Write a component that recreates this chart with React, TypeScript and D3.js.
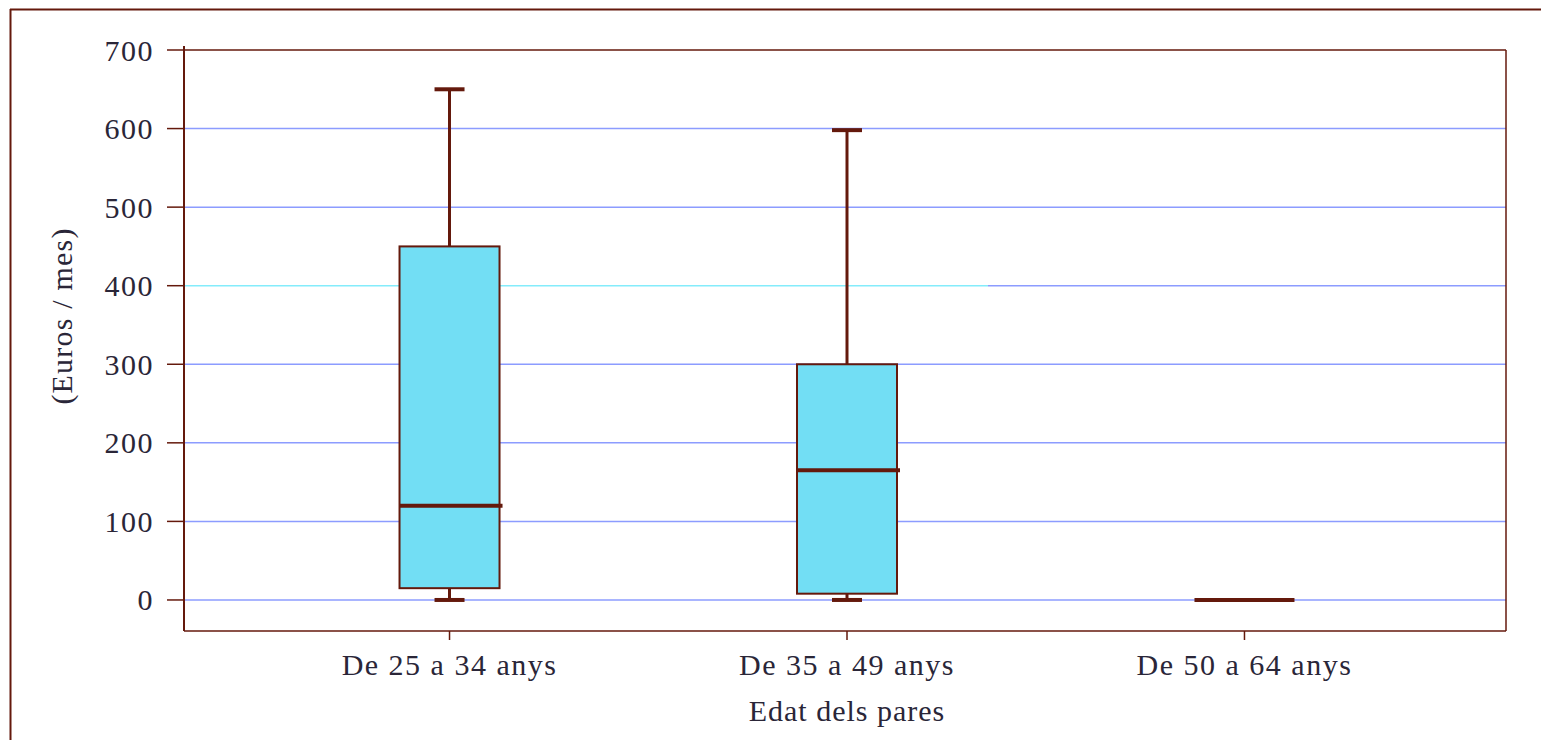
import React from "react";
import * as d3 from "d3";

const categories = ["De 25 a 34 anys", "De 35 a 49 anys", "De 50 a 64 anys"];
const whiskerLow = [0, 0, 0];
const q1 = [15, 8, 0];
const median = [120, 165, 0];
const q3 = [450, 300, 0];
const whiskerHigh = [650, 598, 0];
const yTicks = [0, 100, 200, 300, 400, 500, 600, 700];
const yTitle = "(Euros / mes)";
const xTitle = "Edat dels pares";

const W = 1541;
const H = 740;
const left = 184;
const right = 1506;
const top = 50;
const bottom = 631;

const BROWN = "#64190c";
const GRID = "#8c9cff";
const FILL = "#72def4";
const TEXT = "#2a2638";
const FONT = "Times New Roman, Liberation Serif, DejaVu Serif, serif";

export default function App() {
  const y = d3.scaleLinear().domain([-39.5, 700]).range([bottom, top]);
  const x = d3.scalePoint<string>().domain(categories).range([left + 2, right + 2]).padding(0.663);
  const boxW = 100;
  const capW = 30;

  return (
    <svg width={W} height={H} style={{ position: "absolute", left: 0, top: 0, background: "#fff" }}>
      {/* outer frame */}
      <line x1={10} x2={W} y1={9.5} y2={9.5} stroke={BROWN} strokeWidth={2} />
      <line x1={10.5} x2={10.5} y1={9} y2={H} stroke={BROWN} strokeWidth={2} />

      {/* grid lines */}
      {yTicks.filter((t) => t !== 700).map((t) =>
        t === 400 ? (
          <g key={t}>
            <line x1={left} x2={988} y1={y(t)} y2={y(t)} stroke="#84ecfb" strokeWidth={1.5} />
            <line x1={988} x2={right} y1={y(t)} y2={y(t)} stroke={GRID} strokeWidth={1.5} />
          </g>
        ) : (
          <line key={t} x1={left} x2={right} y1={y(t)} y2={y(t)} stroke={GRID} strokeWidth={1.5} />
        )
      )}

      {/* plot frame */}
      <line x1={left} x2={right} y1={top} y2={top} stroke={BROWN} strokeWidth={1.5} />
      <line x1={right} x2={right} y1={top} y2={bottom} stroke={BROWN} strokeWidth={1.5} />
      <line x1={left} x2={right} y1={bottom} y2={bottom} stroke={BROWN} strokeWidth={1.5} />
      <line x1={left} x2={left} y1={top - 4} y2={bottom} stroke={BROWN} strokeWidth={2} />

      {/* y ticks */}
      {yTicks.map((t) => (
        <g key={t}>
          <line x1={167} x2={left} y1={y(t)} y2={y(t)} stroke={BROWN} strokeWidth={1.5} />
          <text x={154} y={y(t)} dy="0.35em" textAnchor="end" fontFamily={FONT} fontSize={30} fill={TEXT} letterSpacing={1.5}>
            {t}
          </text>
        </g>
      ))}

      {/* x ticks */}
      {categories.map((c) => (
        <g key={c}>
          <line x1={x(c)} x2={x(c)} y1={bottom} y2={bottom + 9} stroke={BROWN} strokeWidth={1.5} />
          <text x={x(c)} y={675} textAnchor="middle" fontFamily={FONT} fontSize={30} fill={TEXT} letterSpacing={1.5}>
            {c}
          </text>
        </g>
      ))}

      <text x={x(categories[1])} y={721} textAnchor="middle" fontFamily={FONT} fontSize={30} fill={TEXT} letterSpacing={1}>
        {xTitle}
      </text>
      <text
        transform={`translate(72, 316) rotate(-90)`}
        textAnchor="middle"
        fontFamily={FONT}
        fontSize={30}
        fill={TEXT}
        letterSpacing={1.2}
      >
        {yTitle}
      </text>

      {/* boxes */}
      {categories.map((c, i) => {
        const cx = x(c) as number;
        const hasBox = q3[i] > q1[i];
        return (
          <g key={c}>
            {hasBox && (
              <>
                <line x1={cx} x2={cx} y1={y(whiskerHigh[i])} y2={y(q3[i])} stroke={BROWN} strokeWidth={3} />
                <line x1={cx} x2={cx} y1={y(q1[i])} y2={y(whiskerLow[i])} stroke={BROWN} strokeWidth={3} />
                <line x1={cx - capW / 2} x2={cx + capW / 2} y1={y(whiskerHigh[i])} y2={y(whiskerHigh[i])} stroke={BROWN} strokeWidth={4} />
                <line x1={cx - capW / 2} x2={cx + capW / 2} y1={y(whiskerLow[i])} y2={y(whiskerLow[i])} stroke={BROWN} strokeWidth={4} />
                <rect x={cx - boxW / 2} y={y(q3[i])} width={boxW} height={y(q1[i]) - y(q3[i])} fill={FILL} stroke={BROWN} strokeWidth={2} />
              </>
            )}
            <line
              x1={cx - boxW / 2}
              x2={cx + boxW / 2 + (hasBox ? 3 : 0)}
              y1={y(median[i])}
              y2={y(median[i])}
              stroke={BROWN}
              strokeWidth={4}
            />
          </g>
        );
      })}
    </svg>
  );
}
